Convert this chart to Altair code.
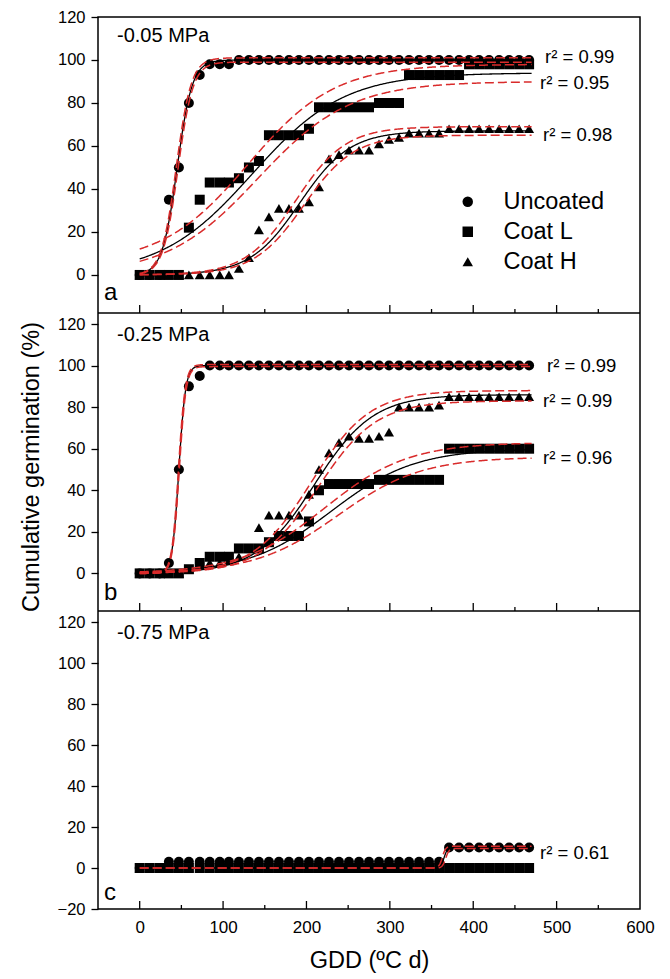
import altair as alt
import pandas as pd

FONT = "Liberation Sans"

# ---------------- data ----------------
gdd = [0, 12, 24, 35, 47, 59, 72, 84, 96, 107, 119, 131, 143, 155, 167, 179, 191, 203, 215, 227,
       239, 251, 263, 275, 287, 299, 311, 323, 335, 347, 359, 371, 383, 395, 407, 419, 431, 443, 455, 467]

series_names = ["Uncoated", "Coat L", "Coat H"]
panel_ids = ["a", "b", "c"]
panel_titles = ["-0.05 MPa", "-0.25 MPa", "-0.75 MPa"]

# panel a (-0.05 MPa)
uncoated_a = [0, 0, 0, 35, 50, 80, 93, 98, 98, 98, 100, 100, 100, 100, 100, 100, 100, 100, 100, 100,
              100, 100, 100, 100, 100, 100, 100, 100, 100, 100, 100, 100, 100, 100, 100, 100, 100, 100, 100, 100]
coatL_a = [0, 0, 0, 0, 0, 22, 35, 43, 43, 43, 45, 50, 53, 65, 65, 65, 65, 68, 78, 78,
           78, 78, 78, 78, 80, 80, 80, 93, 93, 93, 93, 93, 93, 98, 98, 98, 98, 98, 98, 98]
coatH_a = [0, 0, 0, 0, 0, 0, 0, 0, 0, 0, 3, 8, 21, 27, 31, 31, 31, 34, 41, 54,
           56, 58, 58, 58, 61, 63, 64, 66, 66, 66, 66, 68, 68, 68, 68, 68, 68, 68, 68, 68]

# panel b (-0.25 MPa)
uncoated_b = [0, 0, 0, 5, 50, 90, 95, 100, 100, 100, 100, 100, 100, 100, 100, 100, 100, 100, 100, 100,
              100, 100, 100, 100, 100, 100, 100, 100, 100, 100, 100, 100, 100, 100, 100, 100, 100, 100, 100, 100]
coatL_b = [0, 0, 0, 0, 0, 2, 5, 8, 8, 8, 12, 12, 12, 15, 18, 18, 18, 25, 40, 43,
           43, 43, 43, 43, 45, 45, 45, 45, 45, 45, 45, 60, 60, 60, 60, 60, 60, 60, 60, 60]
coatH_b = [0, 0, 0, 0, 0, 2, 4, 5, 5, 6, 8, 12, 22, 28, 28, 28, 28, 38, 50, 58,
           63, 66, 65, 65, 66, 68, 80, 80, 80, 80, 81, 85, 85, 85, 85, 85, 85, 85, 85, 85]

# panel c (-0.75 MPa)
uncoated_c = [0, 0, 0, 3, 3, 3, 3, 3, 3, 3, 3, 3, 3, 3, 3, 3, 3, 3, 3, 3,
              3, 3, 3, 3, 3, 3, 3, 3, 3, 3, 3, 10, 10, 10, 10, 10, 10, 10, 10, 10]
coatL_c = [0, 0, 0, 0, 0, 0, 0, 0, 0, 0, 0, 0, 0, 0, 0, 0, 0, 0, 0, 0,
           0, 0, 0, 0, 0, 0, 0, 0, 0, 0, 0, 0, 0, 0, 0, 0, 0, 0, 0, 0]
coatH_c = [0, 0, 0, 0, 0, 0, 0, 0, 0, 0, 0, 0, 0, 0, 0, 0, 0, 0, 0, 0,
           0, 0, 0, 0, 0, 0, 0, 0, 0, 0, 0, 0, 0, 0, 0, 0, 0, 0, 0, 0]

# sigmoid fits: y = y0 + a / (1 + exp(-(x - x0) / b))
curve_panel = ["a"] * 9 + ["b"] * 9 + ["c"] * 3
curve_kind = ["fit", "upper", "lower"] * 7
curve_series = (["Uncoated"] * 3 + ["Coat L"] * 3 + ["Coat H"] * 3) * 2 + ["Uncoated"] * 3
curve_y0 = [0, 0, 0, 0, 5, 0, 0, 0, 0,
            0, 0, 0, 0, 0, 0, 0, 0, 0,
            0, 0, 0]
curve_a = [100, 101, 99, 94, 93, 90, 67, 69, 65,
           100, 100.5, 99.5, 60, 63, 56, 86, 88, 83,
           10, 10.6, 9.5]
curve_x0 = [45, 44, 46, 135, 130, 142, 192, 187, 197,
            47, 46.5, 47.5, 230, 222, 238, 210, 206, 214,
            365, 363, 367]
curve_b = [9, 9, 9, 55, 52, 55, 30, 30, 30,
           4, 4, 4, 50, 50, 50, 35, 35, 35,
           2, 2, 2]

r2_a = ["r² = 0.99", "r² = 0.95", "r² = 0.98"]
r2_b = ["r² = 0.99", "r² = 0.99", "r² = 0.96"]
r2_c = ["r² = 0.61"]

x_ticks_major = [0, 100, 200, 300, 400, 500]
x_ticks_minor = [50, 150, 250, 350, 450, 550]
x_labels = [0, 100, 200, 300, 400, 500, 600]

# ---------------- tables ----------------
panel_values = {
    "a": [uncoated_a, coatL_a, coatH_a],
    "b": [uncoated_b, coatL_b, coatH_b],
    "c": [uncoated_c, coatL_c, coatH_c],
}


def points_table(pid):
    rows = []
    for s, vals in zip(series_names, panel_values[pid]):
        for g, v in zip(gdd, vals):
            rows.append({"gdd": g, "val": v, "series": s})
    return pd.DataFrame(rows)


curves = pd.DataFrame({
    "panel": curve_panel, "kind": curve_kind, "series": curve_series,
    "y0": curve_y0, "a": curve_a, "x0": curve_x0, "b": curve_b,
})
curves["curve"] = curves["panel"] + "-" + curves["series"] + "-" + curves["kind"]

# ---------------- layout ----------------
W, H = 542, 892
panel_bottom = {"a": 296, "b": 594, "c": 892}
y_scales = {
    "a": alt.Scale(domain=[-17.7, 120], range=[296, 0], nice=False, zero=False),
    "b": alt.Scale(domain=[-18.1, 125.3], range=[594, 296], nice=False, zero=False),
    "c": alt.Scale(domain=[-20, 125.4], range=[892, 594], nice=False, zero=False),
}
y_tick_values = {
    "a": [0, 20, 40, 60, 80, 100, 120],
    "b": [0, 20, 40, 60, 80, 100, 120],
    "c": [-20, 0, 20, 40, 60, 80, 100, 120],
}
x_scale = alt.Scale(domain=[-50, 600], nice=False, zero=False)
shape_scale = alt.Scale(domain=series_names, range=["circle", "square", "triangle-up"])
RED = "#d92b2b"

legend = alt.Legend(title=None, orient="none", legendX=358, legendY=173,
                    labelFontSize=23.5, labelFont=FONT, labelColor="black",
                    symbolSize=110, labelOffset=24, rowPadding=5, padding=0,
                    symbolFillColor="black", symbolStrokeColor="black")

x_axis = alt.Axis(values=x_labels, ticks=False, domain=False, grid=False, tickSize=0,
                  labelFontSize=17, labelFont=FONT, labelColor="black", labelPadding=10,
                  labelFlush=False, title="GDD (ºC d)", titleFontSize=23.5, titleFont=FONT,
                  titleFontWeight="normal", titleColor="black", titlePadding=13)


def X(field):
    return alt.X(field, scale=x_scale, axis=x_axis)


layers = []
for i, pid in enumerate(panel_ids):
    ys = y_scales[pid]
    y_axis = alt.Axis(values=y_tick_values[pid], orient="left", title=None, domain=False, grid=False,
                      tickSize=7, tickWidth=1.3, tickColor="black", labelFontSize=16.5, labelFont=FONT,
                      labelColor="black", labelPadding=6)
    pts = alt.Chart(points_table(pid)).mark_point(filled=True, size=100, opacity=1, color="black").encode(
        x=X("gdd:Q"),
        y=alt.Y("val:Q", scale=ys, axis=y_axis),
        shape=alt.Shape("series:N", scale=shape_scale, legend=legend),
    )
    layers.append(pts)

    base = alt.Chart(curves[curves["panel"] == pid]).transform_calculate(
        xs="sequence(0, 470.5, 1)"
    ).transform_flatten(["xs"]).transform_calculate(
        yv="datum.y0 + datum.a / (1 + exp(-(datum.xs - datum.x0) / datum.b))"
    )
    fit = base.transform_filter("datum.kind == 'fit'").mark_line(color="black", strokeWidth=1.3).encode(
        x=X("xs:Q"),
        y=alt.Y("yv:Q", scale=ys, axis=None),
        detail="curve:N",
    )
    band = base.transform_filter("datum.kind != 'fit'").mark_line(
        color=RED, strokeWidth=1.5, strokeDash=[9, 4]).encode(
        x=X("xs:Q"),
        y=alt.Y("yv:Q", scale=ys, axis=None),
        detail="curve:N",
    )
    layers += [fit, band]

    # inward x ticks on the bottom edge of each panel
    yb = panel_bottom[pid]
    for vals, ln in ((x_ticks_major, 8), (x_ticks_minor, 4)):
        layers.append(
            alt.Chart(pd.DataFrame({"t": vals})).mark_rule(color="black", strokeWidth=1.3).encode(
                x=X("t:Q"),
                y=alt.value(yb), y2=alt.value(yb - ln))
        )

# panel dividers
for yb in (296, 594):
    layers.append(
        alt.Chart(pd.DataFrame({"d": [0]})).mark_rule(color="black", strokeWidth=1.5).encode(
            x=alt.value(0), x2=alt.value(W), y=alt.value(yb))
    )


def text_layer(txt, x, y, size, align="left"):
    return alt.Chart(pd.DataFrame({"t": [txt]})).mark_text(
        align=align, baseline="middle", fontSize=size, font=FONT, color="black").encode(
        text="t:N", x=alt.value(x), y=alt.value(y))


# panel titles and letters
for txt, y in zip(panel_titles, (19, 318, 616)):
    layers.append(text_layer(txt, 19, y, 20))
for txt, y in zip(["a", "b", "c"], (276, 576, 876)):
    layers.append(text_layer(txt, 6, y, 24))

# r² labels
for txt, (x, y) in zip(r2_a, [(447, 40), (442, 66), (445, 118)]):
    layers.append(text_layer(txt, x, y, 18.5))
for txt, (x, y) in zip(r2_b, [(449, 349), (445, 384), (445, 441)]):
    layers.append(text_layer(txt, x, y, 18.5))
for txt, (x, y) in zip(r2_c, [(442, 836)]):
    layers.append(text_layer(txt, x, y, 18.5))

# y title
layers.append(
    alt.Chart(pd.DataFrame({"t": ["Cumulative germination (%)"]})).mark_text(
        angle=270, fontSize=23.5, font=FONT, color="black", baseline="middle", align="center").encode(
        text="t:N", x=alt.value(-66), y=alt.value(450))
)

chart = alt.layer(*layers).resolve_scale(y="independent").properties(
    width=W, height=H,
    autosize=alt.AutoSizeParams(type="none"),
    padding={"left": 98, "top": 17, "right": 30, "bottom": 70},
    background="white",
).configure_view(stroke="black", strokeWidth=1.5)

chart.save("out.html", embed_options={"renderer": "svg", "actions": False})
